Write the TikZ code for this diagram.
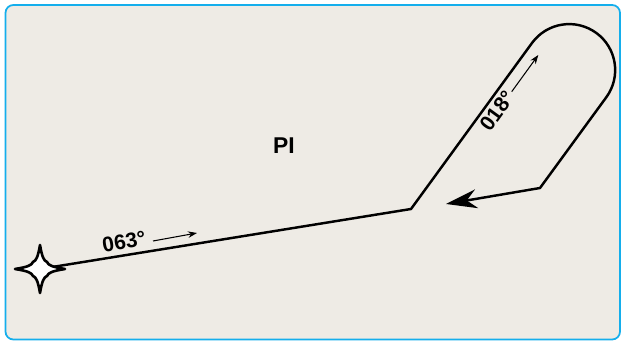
\documentclass[tikz,border=0pt]{standalone}
\usepackage{fontspec}
\setmainfont{Liberation Sans}
\usetikzlibrary{arrows.meta,positioning,calc}
\definecolor{panelfill}{RGB}{238,235,229}
\definecolor{panelline}{RGB}{20,174,236}

\begin{document}
\begin{tikzpicture}[x=0.02cm, y=0.02cm, every node/.style={font=\bfseries\fontsize{12}{13}\selectfont},
        track/.style={line width=1.4pt, line join=miter},
        hdg/.style={-{Stealth[length=1.8mm,width=1.3mm]}, line width=0.6pt}]
    \useasboundingbox (0,0) rectangle (625,344);
    \draw[panelline, fill=panelfill, line width=1pt, rounded corners=4.5pt] (5.5,4.5) rectangle (620,339);

    % holding fix and racetrack
    \coordinate (fix) at (40,75);
    \coordinate (turn) at (411,135);
    \coordinate (outbd) at (532,301);
    \coordinate (back) at (540,156);
    \coordinate (tip) at (446,140);
    \draw[track, -{Stealth[length=6.2mm,width=3.8mm,inset=2mm]}] (fix) -- (turn) -- (outbd)
        arc[start angle=143.9, end angle=-36.1, radius=46] -- (back) -- (tip);

    % star
    \draw[line width=1.5pt, fill=white, line join=round, shift={(fix)}]
        (0,24) .. controls (2,12) and (4,8) .. (7,7) .. controls (8,4) and (12,2) .. (25,0)
        .. controls (12,-2) and (8,-4) .. (7,-7) .. controls (4,-8) and (2,-12) .. (0,-24)
        .. controls (-2,-12) and (-4,-8) .. (-7,-7) .. controls (-8,-4) and (-12,-2) .. (-25,0)
        .. controls (-12,2) and (-8,4) .. (-7,7) .. controls (-4,8) and (-2,12) .. (0,24) -- cycle;

    % headings
    \node[rotate=9.5] (outlbl) at (124,102) {063°};
    \coordinate (outa) at (153,103);
    \coordinate (outb) at (197,111);
    \draw[hdg] (outa) -- (outb);

    \node[rotate=54] (inlbl) at (497,233) {018°};
    \coordinate (ina) at (511.7,252.3);
    \coordinate (inb) at (538.3,289);
    \draw[hdg] (ina) -- (inb);

    \node[font=\bfseries\fontsize{13}{14}\selectfont] (fixname) at (284,198) {PI};
\end{tikzpicture}
\end{document}
